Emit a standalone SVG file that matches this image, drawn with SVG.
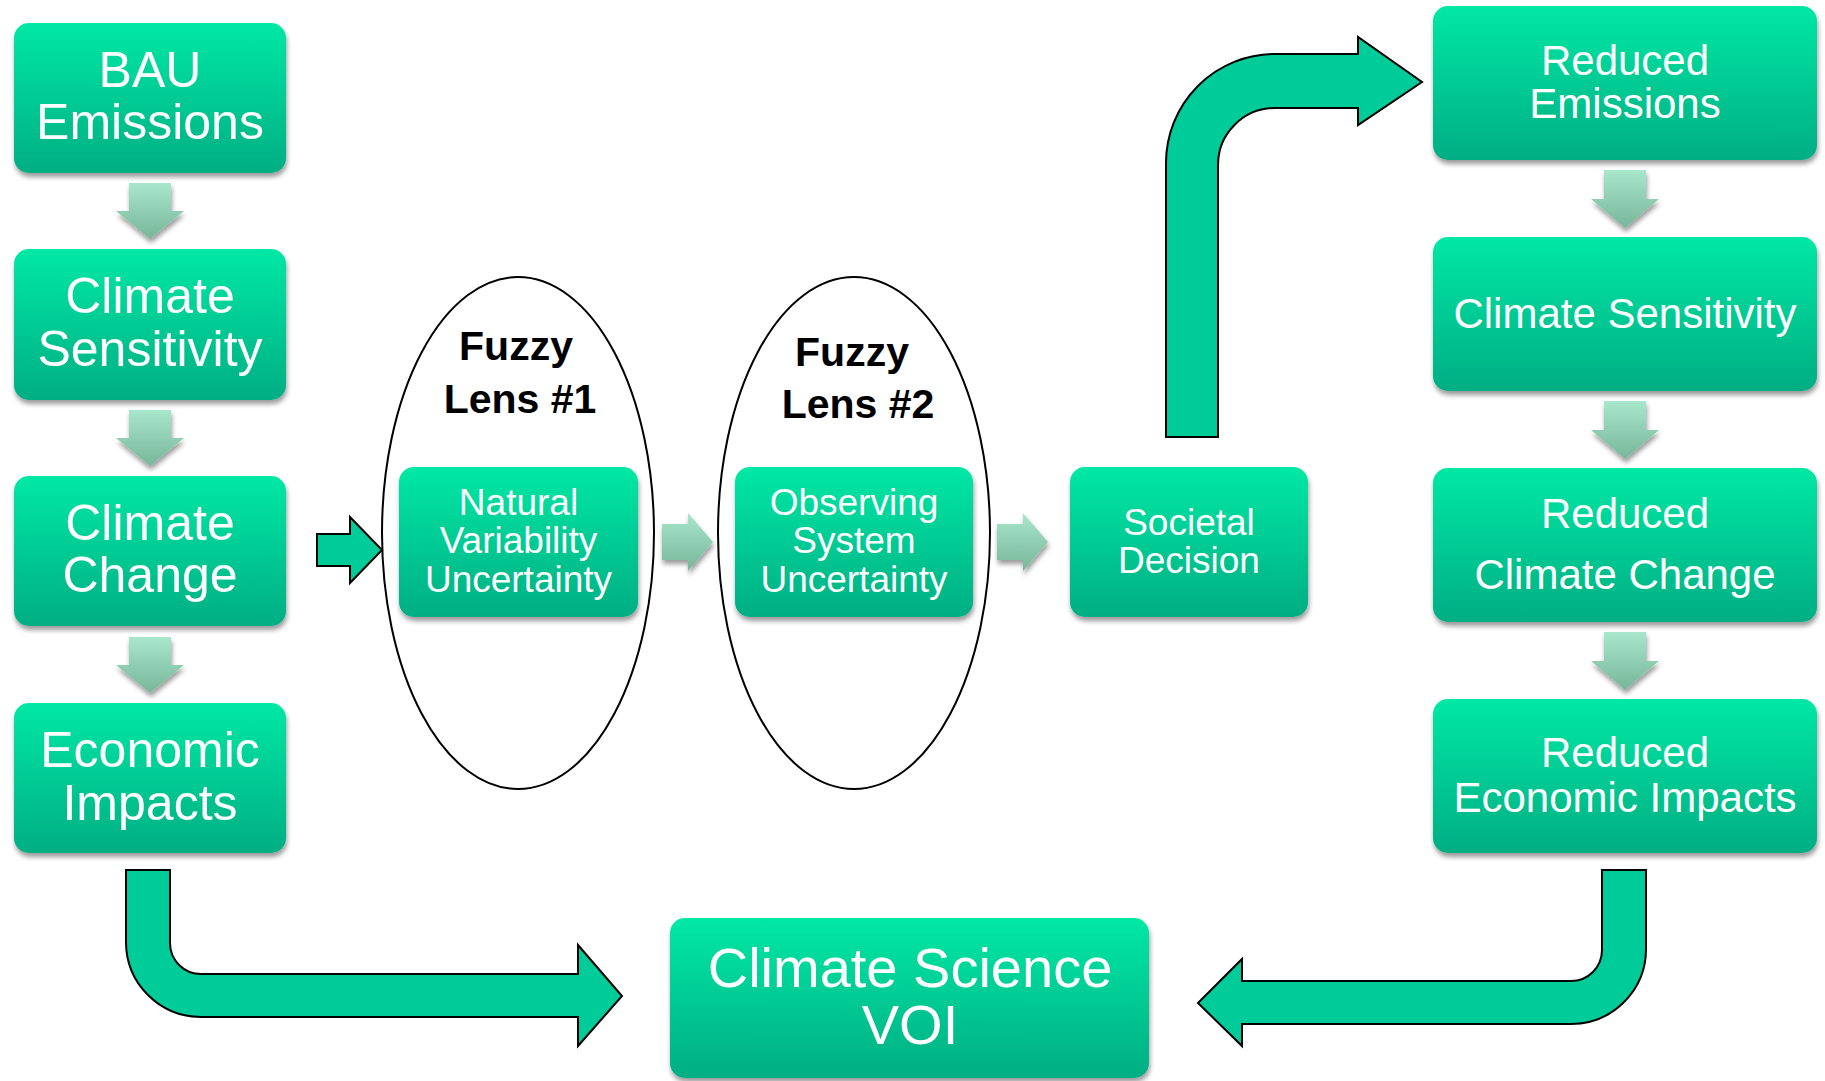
<svg xmlns="http://www.w3.org/2000/svg" width="1825" height="1081" viewBox="0 0 1825 1081">
<defs>
<linearGradient id="boxGrad" x1="0" y1="0" x2="0" y2="1">
<stop offset="0" stop-color="#00E8A5"/>
<stop offset="1" stop-color="#00AE83"/>
</linearGradient>
<linearGradient id="fadeGrad" x1="0" y1="0" x2="0" y2="1">
<stop offset="0" stop-color="#A8E7CC"/>
<stop offset="1" stop-color="#78B69A"/>
</linearGradient>
<filter id="shadow" x="-10%" y="-10%" width="120%" height="130%">
<feGaussianBlur in="SourceAlpha" stdDeviation="2.5"/>
<feOffset dx="1" dy="4" result="b"/>
<feComponentTransfer><feFuncA type="linear" slope="0.4"/></feComponentTransfer>
<feMerge><feMergeNode/><feMergeNode in="SourceGraphic"/></feMerge>
</filter>
</defs>
<style>
.box{fill:url(#boxGrad);filter:url(#shadow);}
.t{font-family:"Liberation Sans",Arial,sans-serif;fill:#FFFFFF;text-anchor:middle;}
.t50{font-size:50px;}
.t42{font-size:42px;}
.t37{font-size:37px;}
.t56{font-size:56px;}
.lens{fill:none;stroke:#000;stroke-width:2;}
.lt{font-family:"Liberation Sans",Arial,sans-serif;font-weight:bold;font-size:41px;fill:#000;text-anchor:middle;}
.big{fill:#00CC99;stroke:#000;stroke-width:2;stroke-linejoin:miter;}
.fade{fill:url(#fadeGrad);filter:url(#shadow);}
</style>
<rect width="1825" height="1081" fill="#FFFFFF"/>

<g id="lens1">
<ellipse class="lens" cx="518" cy="533" rx="136" ry="256"/>
<text class="lt" x="516" y="360">Fuzzy</text>
<text class="lt" x="520" y="413">Lens #1</text>
</g>
<g id="lens2">
<ellipse class="lens" cx="854" cy="533" rx="136" ry="256"/>
<text class="lt" x="852" y="366">Fuzzy</text>
<text class="lt" x="858" y="418">Lens #2</text>
</g>

<g id="connectors">
<path class="fade" d="M129,183 H171 V211 H184 L150,239 L116,211 H129 Z"/>
<path class="fade" d="M129,410 H171 V438 H184 L150,466 L116,438 H129 Z"/>
<path class="fade" d="M129,637 H171 V665 H184 L150,693 L116,665 H129 Z"/>
<path class="fade" d="M1604,170 H1646 V199 H1659 L1625,228 L1591,199 H1604 Z"/>
<path class="fade" d="M1604,401 H1646 V430 H1659 L1625,459 L1591,430 H1604 Z"/>
<path class="fade" d="M1604,632 H1646 V661 H1659 L1625,690 L1591,661 H1604 Z"/>
<path class="fade" d="M662,524 H688 V513 L713,542 L688,571 V560 H662 Z"/>
<path class="fade" d="M997,524 H1023 V513 L1048,542 L1023,571 V560 H997 Z"/>
<path class="big" d="M317,534 L350,534 L350,517 L382,550 L350,583 L350,566 L317,566 Z"/>
<path class="big" d="M1166,437 L1166,163 A109,109 0 0 1 1275,54 L1358,54 L1358,37 L1422,82 L1358,125 L1358,108 L1275,108 A57,57 0 0 0 1218,165 L1218,437 Z"/>
<path class="big" d="M126,870 L170,870 L170,943 A31,31 0 0 0 201,974 L578,974 L578,945 L622,996 L578,1046 L578,1017 L201,1017 A75,75 0 0 1 126,942 Z"/>
<path class="big" d="M1602,870 L1646,870 L1646,949 A75,75 0 0 1 1571,1024 L1242,1024 L1242,1046 L1198,1003 L1242,959 L1242,981 L1571,981 A31,31 0 0 0 1602,950 Z"/>
</g>

<g id="bau">
<rect class="box" x="14" y="23" width="272" height="150" rx="15"/>
<text class="t t50" x="150" y="87">BAU</text>
<text class="t t50" x="150" y="139">Emissions</text>
</g>
<g id="climate-sensitivity">
<rect class="box" x="14" y="249" width="272" height="151" rx="15"/>
<text class="t t50" x="150" y="313">Climate</text>
<text class="t t50" x="150" y="366">Sensitivity</text>
</g>
<g id="climate-change">
<rect class="box" x="14" y="476" width="272" height="150" rx="15"/>
<text class="t t50" x="150" y="540">Climate</text>
<text class="t t50" x="150" y="592">Change</text>
</g>
<g id="economic-impacts">
<rect class="box" x="14" y="703" width="272" height="150" rx="15"/>
<text class="t t50" x="150" y="767">Economic</text>
<text class="t t50" x="150" y="820">Impacts</text>
</g>

<g id="natural-variability">
<rect class="box" x="399" y="467" width="239" height="150" rx="15"/>
<text class="t t37" x="518.5" y="515">Natural</text>
<text class="t t37" x="518.5" y="553">Variability</text>
<text class="t t37" x="518.5" y="592">Uncertainty</text>
</g>
<g id="observing-system">
<rect class="box" x="735" y="467" width="238" height="150" rx="15"/>
<text class="t t37" x="854" y="515">Observing</text>
<text class="t t37" x="854" y="553">System</text>
<text class="t t37" x="854" y="592">Uncertainty</text>
</g>
<g id="societal-decision">
<rect class="box" x="1070" y="467" width="238" height="150" rx="15"/>
<text class="t t37" x="1189" y="535">Societal</text>
<text class="t t37" x="1189" y="573">Decision</text>
</g>

<g id="reduced-emissions">
<rect class="box" x="1433" y="6" width="384" height="154" rx="15"/>
<text class="t t42" x="1625" y="75">Reduced</text>
<text class="t t42" x="1625" y="118">Emissions</text>
</g>
<g id="climate-sensitivity-2">
<rect class="box" x="1433" y="237" width="384" height="154" rx="15"/>
<text class="t t42" x="1625" y="328">Climate Sensitivity</text>
</g>
<g id="reduced-climate-change">
<rect class="box" x="1433" y="468" width="384" height="154" rx="15"/>
<text class="t t42" x="1625" y="528">Reduced</text>
<text class="t t42" x="1625" y="589">Climate Change</text>
</g>
<g id="reduced-economic-impacts">
<rect class="box" x="1433" y="699" width="384" height="154" rx="15"/>
<text class="t t42" x="1625" y="767">Reduced</text>
<text class="t t42" x="1625" y="812">Economic Impacts</text>
</g>

<g id="climate-science-voi">
<rect class="box" x="670" y="918" width="479" height="160" rx="15"/>
<text class="t t56" x="910" y="987">Climate Science</text>
<text class="t t56" x="910" y="1044">VOI</text>
</g>
</svg>
